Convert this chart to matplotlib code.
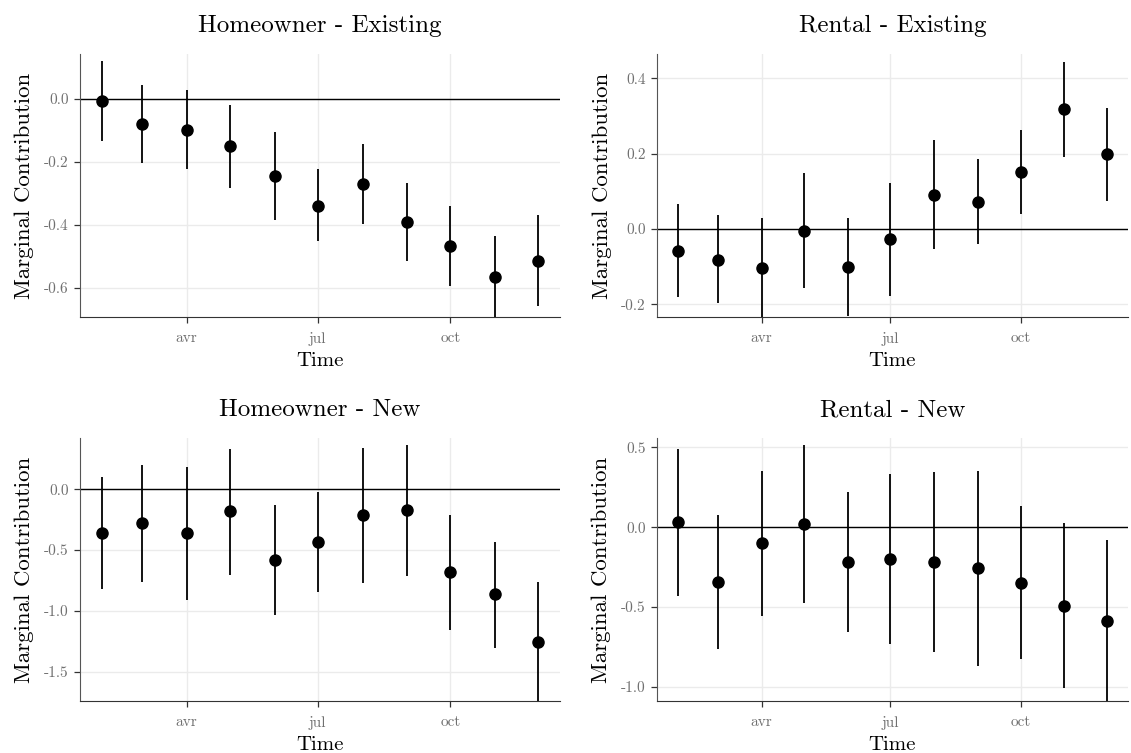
import matplotlib
matplotlib.use("Agg")
import matplotlib.pyplot as plt
import matplotlib.dates as mdates
from matplotlib.ticker import MultipleLocator
import numpy as np
import datetime as dt

plt.rcParams['font.family'] = ['cmr10', 'DejaVu Serif']
plt.rcParams['axes.unicode_minus'] = False
plt.rcParams['mathtext.fontset'] = 'cm'

# monthly points, Feb -> Dec
months = [dt.date(2021, m, 1) for m in range(2, 13)]
month_names = {4: 'avr', 7: 'jul', 10: 'oct'}

# Homeowner - Existing
he_est = [-0.006, -0.081, -0.097, -0.150, -0.245, -0.339, -0.271, -0.390, -0.468, -0.566, -0.514]
he_lo = [-0.132, -0.203, -0.222, -0.282, -0.384, -0.451, -0.398, -0.515, -0.595, -0.697, -0.657]
he_hi = [0.120, 0.043, 0.030, -0.018, -0.105, -0.224, -0.143, -0.266, -0.341, -0.435, -0.370]

# Rental - Existing
re_est = [-0.058, -0.082, -0.104, -0.005, -0.100, -0.028, 0.091, 0.072, 0.152, 0.318, 0.198]
re_lo = [-0.180, -0.198, -0.236, -0.157, -0.231, -0.177, -0.053, -0.041, 0.040, 0.190, 0.073]
re_hi = [0.066, 0.036, 0.028, 0.149, 0.030, 0.121, 0.236, 0.185, 0.264, 0.445, 0.321]

# Homeowner - New
hn_est = [-0.357, -0.280, -0.363, -0.181, -0.582, -0.431, -0.214, -0.173, -0.681, -0.865, -1.253]
hn_lo = [-0.824, -0.766, -0.907, -0.703, -1.038, -0.841, -0.769, -0.709, -1.154, -1.302, -1.742]
hn_hi = [0.104, 0.203, 0.181, 0.335, -0.129, -0.019, 0.338, 0.365, -0.209, -0.431, -0.764]

# Rental - New
rn_est = [0.031, -0.345, -0.102, 0.019, -0.219, -0.198, -0.219, -0.255, -0.347, -0.491, -0.585]
rn_lo = [-0.430, -0.760, -0.554, -0.476, -0.654, -0.731, -0.779, -0.867, -0.825, -1.007, -1.089]
rn_hi = [0.491, 0.073, 0.349, 0.516, 0.221, 0.330, 0.343, 0.353, 0.132, 0.023, -0.081]

panels = [
    ("Homeowner - Existing", he_est, he_lo, he_hi, (-0.693, 0.143), 0.2, [80, 317, 560, 54]),
    ("Rental - Existing", re_est, re_lo, re_hi, (-0.234, 0.465), 0.2, [657, 317, 1128, 54]),
    ("Homeowner - New", hn_est, hn_lo, hn_hi, (-1.742, 0.423), 0.5, [80, 701, 560, 438]),
    ("Rental - New", rn_est, rn_lo, rn_hi, (-1.088, 0.558), 0.5, [657, 701, 1128, 438]),
]

W, H = 1131, 753
fig = plt.figure(figsize=(W / 100, H / 100), dpi=100)

pad = dt.timedelta(days=(months[-1] - months[0]).days * 0.05)

for title, est, lo, hi, ylim, step, box in panels:
    x0, yb, x1, yt = box
    ax = fig.add_axes([x0 / W, (H - yb) / H, (x1 - x0) / W, (yb - yt) / H])
    ax.axhline(0, color='black', lw=1.0, zorder=2)
    ax.vlines(months, lo, hi, color='black', lw=1.3, zorder=3)
    ax.plot(months, est, 'o', color='black', ms=8, zorder=4)

    ax.set_xlim(months[0] - pad, months[-1] + pad)
    ax.set_ylim(*ylim)
    ax.xaxis.set_major_locator(mdates.MonthLocator(bymonth=[1, 4, 7, 10]))
    ax.xaxis.set_major_formatter(plt.FuncFormatter(lambda v, p: month_names.get(mdates.num2date(v).month, '')))
    ax.yaxis.set_major_locator(MultipleLocator(step))
    ax.yaxis.set_major_formatter(plt.FuncFormatter(lambda v, p: '%.1f' % v))

    ax.grid(True, color='#ebebeb', lw=1.0, zorder=0)
    ax.set_axisbelow(True)
    for s in ['top', 'right']:
        ax.spines[s].set_visible(False)
    ax.spines['left'].set_color('#555555')
    ax.spines['bottom'].set_color('#333333')
    ax.tick_params(axis='both', labelsize=11, labelcolor='#707070', color='#333333', length=4.5, width=0.9)
    ax.tick_params(axis='x', pad=6)

    ax.set_title(title, fontsize=18, pad=15.5)
    ax.set_xlabel("Time", fontsize=15, labelpad=5)
    ax.set_ylabel("Marginal Contribution", fontsize=16.5, labelpad=7)

fig.savefig("out.png", dpi=100)
